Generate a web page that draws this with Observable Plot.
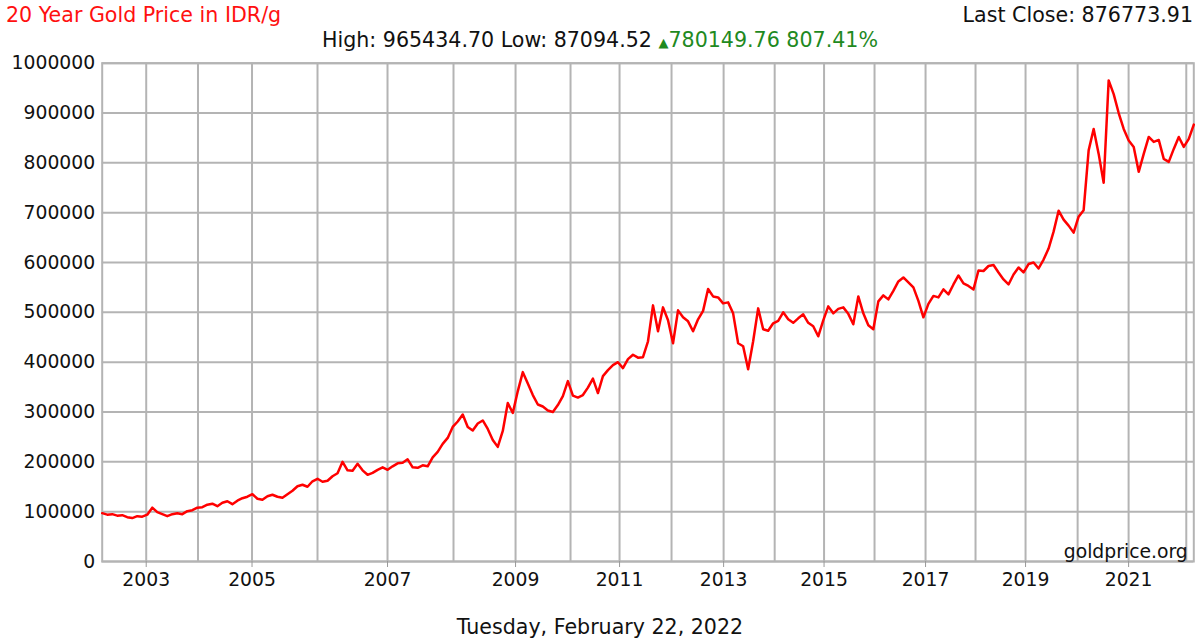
<!DOCTYPE html>
<html>
<head>
<meta charset="utf-8">
<script src="https://cdn.jsdelivr.net/npm/d3@7"></script>
<script src="https://cdn.jsdelivr.net/npm/@observablehq/plot@0.6"></script>
<style>
  html, body { margin: 0; padding: 0; background: #fff; }
  #wrap { position: relative; width: 1200px; height: 639px; overflow: hidden; font-family: "DejaVu Sans", sans-serif; color: #111; }
  #chart { position: absolute; left: 0; top: 0; }
  .t { position: absolute; white-space: nowrap; font-size: 20.6px; line-height: 20px; }
  #title { left: 6px; top: 5px; color: #ff1010; }
  #last { right: 7px; top: 5px; }
  #hilo { left: 0; width: 1200px; top: 30px; text-align: center; }
  #hilo .g { color: #1f8a1f; }
  #hilo .tri { font-size: 13px; }
  #foot { left: 0; width: 1200px; top: 617px; text-align: center; }
</style>
</head>
<body>
<div id="wrap">
  <div id="chart"></div>
  <div class="t" id="title"></div>
  <div class="t" id="last"></div>
  <div class="t" id="hilo"></div>
  <div class="t" id="foot"></div>
</div>
<script>
// ---- Data ----
const titleText = "20 Year Gold Price in IDR/g";
const lastClose = "876773.91";
const high = "965434.70";
const low = "87094.52";
const change = "780149.76";
const changePct = "807.41%";
const footerText = "Tuesday, February 22, 2022";
const sourceText = "goldprice.org";

// Price samples (IDR/g), evenly spaced along the chart, Feb 2002 -> Feb 2022
const prices = [
  97000, 94000, 95000, 92000, 93000, 89000, 87095, 91000, 90000, 94000,
  108000, 99000, 95000, 91000, 95000, 97000, 95000, 101000, 103000, 108000,
  109000, 114000, 116000, 111000, 118000, 121000, 115000, 122000, 127000, 130000,
  135000, 126000, 124000, 131000, 134000, 130000, 128000, 135000, 142000, 151000,
  154000, 150000, 161000, 166000, 160000, 162000, 171000, 177000, 200000, 183000,
  182000, 196000, 183000, 174000, 178000, 184000, 189000, 184000, 191000, 197000,
  198000, 205000, 189000, 188000, 193000, 191000, 209000, 220000, 236000, 248000,
  270000, 281000, 295000, 270000, 263000, 277000, 283000, 266000, 244000, 230000,
  262000, 318000, 298000, 342000, 380000, 357000, 334000, 315000, 311000, 303000,
  300000, 314000, 332000, 362000, 333000, 329000, 334000, 349000, 367000, 338000,
  372000, 384000, 394000, 400000, 388000, 406000, 415000, 409000, 410000, 442000,
  514000, 462000, 510000, 484000, 438000, 504000, 490000, 482000, 462000, 486000,
  503000, 547000, 532000, 530000, 518000, 520000, 498000, 438000, 432000, 386000,
  442000, 508000, 466000, 463000, 478000, 483000, 500000, 486000, 479000, 488000,
  496000, 479000, 472000, 452000, 484000, 512000, 498000, 507000, 510000, 497000,
  476000, 532000, 498000, 474000, 466000, 522000, 534000, 526000, 543000, 562000,
  570000, 560000, 550000, 523000, 490000, 517000, 533000, 530000, 546000, 536000,
  556000, 574000, 558000, 553000, 546000, 584000, 583000, 593000, 595000, 580000,
  566000, 556000, 576000, 590000, 580000, 597000, 600000, 588000, 606000, 628000,
  662000, 704000, 686000, 674000, 660000, 692000, 705000, 825000, 868000, 818000,
  760000, 965435, 938000, 900000, 868000, 845000, 832000, 782000, 818000, 852000,
  842000, 846000, 808000, 802000, 828000, 852000, 832000, 848000, 876774
];

// Sample index at which each calendar year starts (year grid lines)
const years = [2003, 2004, 2005, 2006, 2007, 2008, 2009, 2010, 2011, 2012,
               2013, 2014, 2015, 2016, 2017, 2018, 2019, 2020, 2021, 2022];
const yearStartIndex = [8.79, 19.13, 29.92, 43.0, 56.98, 70.16, 82.55, 93.53, 103.32, 113.7,
                        124.1, 134.3, 144.16, 154.24, 164.43, 174.41, 184.4, 194.8, 204.98, 216.5];
// Labelled years
const labelYears = [2003, 2005, 2007, 2009, 2011, 2013, 2015, 2017, 2019, 2021];
const yTicks = [0, 100000, 200000, 300000, 400000, 500000, 600000, 700000, 800000, 900000, 1000000];

// ---- Text ----
document.getElementById("title").textContent = titleText;
document.getElementById("last").textContent = "Last Close: " + lastClose;
document.getElementById("foot").textContent = footerText;
document.getElementById("hilo").innerHTML =
  "High: " + high + " Low: " + low + " <span class='g'><span class='tri'>\u25B2</span>" + change + " " + changePct + "</span>";

// ---- Chart ----
const labelIdx = labelYears.map(y => yearStartIndex[years.indexOf(y)]);
const labelMap = new Map(labelYears.map((y, k) => [labelIdx[k], String(y)]));
const gridColor = "#b4b4b4";

const chart = Plot.plot({
  width: 1200,
  height: 639,
  marginTop: 62.7,
  marginBottom: 78,
  marginLeft: 101.7,
  marginRight: 6.7,
  style: { fontFamily: "DejaVu Sans, sans-serif", fontSize: "18.8px", color: "#111", background: "white" },
  x: { domain: [0, prices.length - 1] },
  y: { domain: [0, 1000000] },
  marks: [
    Plot.gridX(yearStartIndex, { stroke: gridColor, strokeOpacity: 1, strokeWidth: 2 }),
    Plot.gridY(yTicks, { stroke: gridColor, strokeOpacity: 1, strokeWidth: 2 }),
    Plot.frame({ stroke: gridColor, strokeWidth: 2 }),
    Plot.lineY(prices, { stroke: "#ff0000", strokeWidth: 2.5 }),
    Plot.axisX(labelIdx, { tickFormat: d => labelMap.get(d), tickSize: 6, tickPadding: 5, stroke: "#999", fill: "#111", label: null }),
    Plot.axisY(yTicks, { tickFormat: d => String(d), tickSize: 0, tickPadding: 7, fill: "#111", label: null }),
    Plot.text([sourceText], { frameAnchor: "bottom-right", dx: -6, dy: -4, lineAnchor: "bottom", fill: "#111", fontSize: 18.8 })
  ]
});
document.getElementById("chart").appendChild(chart);
</script>
</body>
</html>
